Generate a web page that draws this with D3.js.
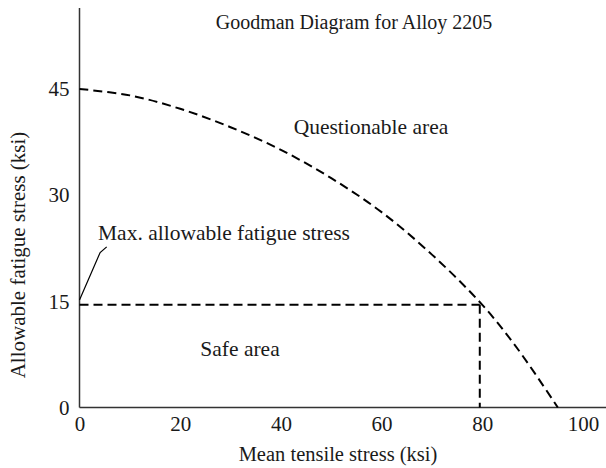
<!DOCTYPE html>
<html>
<head>
<meta charset="utf-8">
<script src="https://cdn.jsdelivr.net/npm/d3@7"></script>
<style>
  html, body { margin: 0; padding: 0; background: #fff; }
  svg text { font-family: "Liberation Serif", "DejaVu Serif", serif; fill: #1a1a1a; }
</style>
</head>
<body>
<svg id="chart" width="606" height="468"></svg>
<script>
// Goodman curve: mean tensile stress (ksi) vs allowable fatigue stress (ksi)
const meanStress    = [0, 10, 20, 30, 40, 50, 60, 70, 80, 87, 95];
const fatigueStress = [45, 44.1, 42.2, 39.6, 36.4, 32.4, 27.6, 21.6, 14.5, 8.3, 0];

// Safe operating limits
const maxFatigue = 14.5;
const maxMean = 79.5;

const xTicks = [0, 20, 40, 60, 80, 100];
const yTicks = [0, 15, 30, 45];

const W = 606, H = 468;
const svg = d3.select("#chart");

const x = d3.scaleLinear().domain([0, 100]).range([79.5, 583]);
const y = d3.scaleLinear().domain([0, 45]).range([407.5, 89]);

// axis lines
svg.append("line")
  .attr("x1", x(0)).attr("x2", W)
  .attr("y1", y(0)).attr("y2", y(0))
  .attr("stroke", "#333").attr("stroke-width", 1.5);
svg.append("line")
  .attr("x1", x(0)).attr("x2", x(0))
  .attr("y1", y(0)).attr("y2", 8)
  .attr("stroke", "#333").attr("stroke-width", 1.5);

// tick labels
const xAxis = svg.append("g")
  .attr("transform", `translate(0,${y(0)})`)
  .call(d3.axisBottom(x).tickValues(xTicks).tickSize(0).tickPadding(9));
xAxis.select(".domain").remove();
xAxis.selectAll("text")
  .attr("font-size", 21)
  .style("font-family", "'Liberation Serif', serif")
  .attr("fill", "#1a1a1a");

const yAxis = svg.append("g")
  .attr("transform", `translate(${x(0)},0)`)
  .call(d3.axisLeft(y).tickValues(yTicks).tickSize(0).tickPadding(10));
yAxis.select(".domain").remove();
yAxis.selectAll("text")
  .attr("font-size", 21)
  .style("font-family", "'Liberation Serif', serif")
  .attr("fill", "#1a1a1a");

// Goodman curve
const pts = meanStress.map((m, i) => [m, fatigueStress[i]]);
const line = d3.line()
  .x(d => x(d[0]))
  .y(d => y(d[1]))
  .curve(d3.curveCatmullRom.alpha(0.5));

svg.append("path")
  .datum(pts)
  .attr("d", line)
  .attr("fill", "none")
  .attr("stroke", "#000")
  .attr("stroke-width", 2)
  .attr("stroke-dasharray", "9,5");

// safe-area boundaries
svg.append("line")
  .attr("x1", x(0)).attr("x2", x(maxMean))
  .attr("y1", y(maxFatigue)).attr("y2", y(maxFatigue))
  .attr("stroke", "#000").attr("stroke-width", 2)
  .attr("stroke-dasharray", "9,5");
svg.append("line")
  .attr("x1", x(maxMean)).attr("x2", x(maxMean))
  .attr("y1", y(maxFatigue)).attr("y2", y(0))
  .attr("stroke", "#000").attr("stroke-width", 2)
  .attr("stroke-dasharray", "9,5");

// leader from the label down to the axis at the maximum allowable stress
const leader = [[0, 15.2], [4.1, 21.9], [5.4, 22.7]];
svg.append("path")
  .attr("d", d3.line().x(d => x(d[0])).y(d => y(d[1]))(leader))
  .attr("fill", "none")
  .attr("stroke", "#000")
  .attr("stroke-width", 1.2);

// texts
svg.append("text")
  .attr("x", 354).attr("y", 29)
  .attr("text-anchor", "middle").attr("font-size", 20)
  .text("Goodman Diagram for Alloy 2205");

svg.append("text")
  .attr("x", 371).attr("y", 134)
  .attr("text-anchor", "middle").attr("font-size", 21.5)
  .text("Questionable area");

svg.append("text")
  .attr("x", 98).attr("y", 240)
  .attr("font-size", 21.5)
  .text("Max. allowable fatigue stress");

svg.append("text")
  .attr("x", 240).attr("y", 356)
  .attr("text-anchor", "middle").attr("font-size", 21.5)
  .text("Safe area");

svg.append("text")
  .attr("x", 338).attr("y", 461)
  .attr("text-anchor", "middle").attr("font-size", 20.5)
  .text("Mean tensile stress (ksi)");

svg.append("text")
  .attr("transform", "translate(25,255) rotate(-90)")
  .attr("text-anchor", "middle").attr("font-size", 21)
  .text("Allowable fatigue stress (ksi)");
</script>
</body>
</html>
